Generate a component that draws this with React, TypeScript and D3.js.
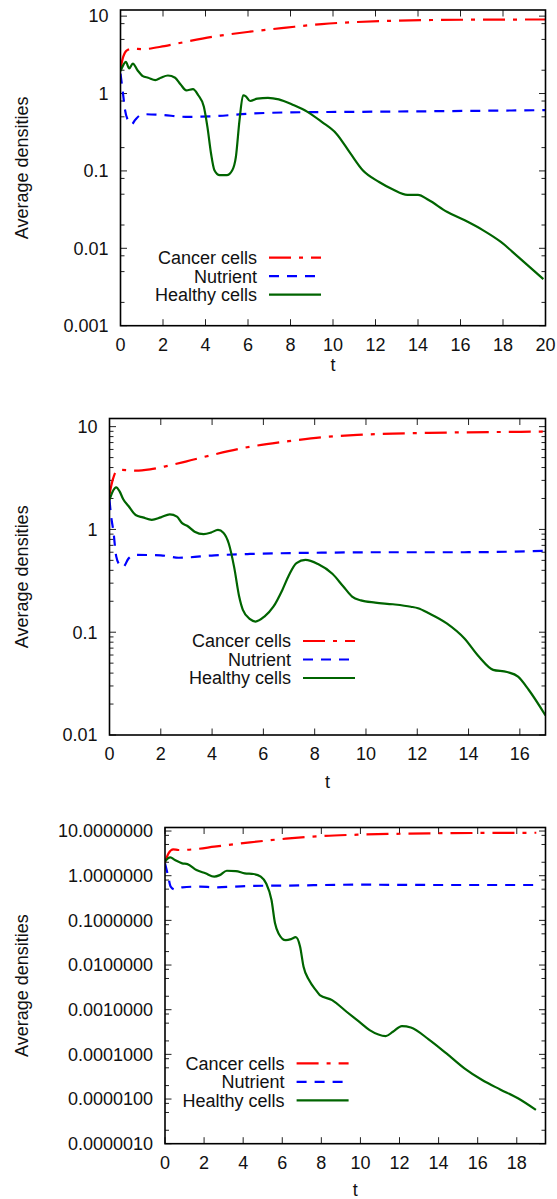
import React from "react";
import * as d3 from "d3";

// ---- series data: time points and average densities ----
// Simulation 1 (t in [0, 20])
const sim1CancerT = [0, 0.13, 0.3, 0.55, 1.05, 2.07, 3.07, 4.42, 6.1, 7.8, 9.47, 11.15, 12.8, 14.5, 17, 20];
const sim1CancerV = [2.1, 3.0, 3.6, 3.8, 3.75, 4.1, 4.66, 5.45, 6.3, 7.1, 7.9, 8.4, 8.7, 8.9, 9.0, 9.05];
const sim1NutrientT = [0, 0.1, 0.21, 0.35, 0.52, 0.7, 0.9, 1.1, 1.9, 3.07, 4.42, 6.1, 7.8, 11.15, 14.5, 20];
const sim1NutrientV = [1.8, 1.1, 0.62, 0.45, 0.4, 0.46, 0.52, 0.54, 0.53, 0.5, 0.51, 0.55, 0.57, 0.58, 0.59, 0.61];
const sim1HealthyT = [0, 0.13, 0.25, 0.41, 0.58, 0.8, 1.05, 1.3, 1.64, 1.9, 2.23, 2.57, 2.82, 3.1, 3.41, 3.66, 3.92, 4.09, 4.26, 4.42, 4.67, 5.0, 5.26, 5.43, 5.6, 5.77, 5.9, 6.1, 6.44, 6.94, 7.45, 8.13, 8.8, 9.47, 10.15, 10.82, 11.4, 12.17, 12.8, 13.5, 14.0, 14.5, 15.36, 16.2, 17.05, 17.9, 18.7, 19.9];
const sim1HealthyV = [1.95, 2.33, 2.57, 2.11, 2.44, 2.0, 1.68, 1.6, 1.49, 1.6, 1.71, 1.6, 1.32, 1.1, 1.14, 0.95, 0.68, 0.37, 0.168, 0.102, 0.088, 0.088, 0.102, 0.152, 0.45, 0.95, 0.92, 0.8, 0.86, 0.88, 0.84, 0.71, 0.58, 0.43, 0.305, 0.168, 0.102, 0.072, 0.058, 0.049, 0.049, 0.042, 0.0297, 0.023, 0.0172, 0.0121, 0.0078, 0.004];

// Simulation 2 (t in [0, 17])
const sim2CancerT = [0, 0.12, 0.26, 0.47, 1.02, 1.58, 2.14, 2.97, 4.09, 5.48, 6.87, 8.27, 9.66, 11.05, 12.45, 13.84, 15.24, 17];
const sim2CancerV = [2.2, 3.0, 3.65, 3.79, 3.73, 3.84, 4.09, 4.57, 5.37, 6.38, 7.15, 7.87, 8.3, 8.55, 8.7, 8.8, 8.87, 8.95];
const sim2NutrientT = [0, 0.05, 0.16, 0.26, 0.4, 0.53, 0.74, 1.02, 2.0, 2.7, 4.09, 5.48, 8.27, 11.05, 13.84, 17];
const sim2NutrientV = [1.93, 1.44, 0.92, 0.55, 0.45, 0.43, 0.52, 0.565, 0.56, 0.53, 0.56, 0.577, 0.594, 0.6, 0.6, 0.62];
const sim2HealthyT = [0, 0.12, 0.26, 0.4, 0.53, 0.74, 1.02, 1.3, 1.65, 2.0, 2.35, 2.63, 2.83, 3.04, 3.32, 3.67, 3.95, 4.23, 4.44, 4.65, 4.86, 5.06, 5.2, 5.48, 5.69, 6.04, 6.39, 6.74, 7.0, 7.29, 7.64, 8.13, 8.69, 9.11, 9.46, 9.8, 10.36, 11.05, 11.75, 12.03, 12.45, 13.15, 13.84, 14.4, 14.96, 15.5, 15.93, 16.35, 17];
const sim2HealthyV = [1.94, 2.33, 2.57, 2.33, 1.98, 1.69, 1.38, 1.31, 1.24, 1.31, 1.4, 1.33, 1.15, 1.08, 0.95, 0.9, 0.93, 0.99, 0.93, 0.73, 0.43, 0.22, 0.165, 0.134, 0.127, 0.142, 0.177, 0.258, 0.36, 0.47, 0.505, 0.46, 0.37, 0.28, 0.222, 0.204, 0.194, 0.187, 0.177, 0.171, 0.153, 0.122, 0.087, 0.058, 0.043, 0.041, 0.037, 0.0274, 0.0155];

// Simulation 3 (t in [0, 19])
const sim3CancerT = [0, 0.18, 0.42, 0.69, 1.6, 2.52, 4.35, 6.18, 8.0, 9.84, 13.5, 17.1, 19];
const sim3CancerV = [2.0, 3.16, 3.89, 3.76, 3.95, 4.46, 5.57, 6.73, 7.73, 8.28, 8.87, 9.1, 9.15];
const sim3NutrientT = [0, 0.15, 0.29, 0.51, 0.88, 1.79, 2.52, 4.35, 6.18, 9.84, 13.5, 19];
const sim3NutrientV = [1.9, 1.03, 0.57, 0.49, 0.55, 0.57, 0.55, 0.59, 0.6, 0.63, 0.62, 0.62];
const sim3HealthyT = [0, 0.15, 0.27, 0.51, 0.88, 1.15, 1.61, 2.07, 2.52, 2.8, 3.16, 3.62, 4.08, 4.53, 4.9, 5.17, 5.45, 5.63, 5.81, 6.18, 6.45, 6.69, 6.91, 7.09, 7.37, 7.73, 7.92, 8.55, 9.29, 9.93, 10.47, 11.3, 11.66, 12.12, 12.58, 13.49, 14.4, 15.32, 16.23, 17.15, 18.06, 18.98];
const sim3HealthyV = [2.06, 2.44, 2.57, 2.24, 1.89, 1.82, 1.34, 1.13, 0.95, 1.03, 1.29, 1.27, 1.13, 1.09, 0.95, 0.68, 0.285, 0.086, 0.051, 0.036, 0.038, 0.042, 0.026, 0.0091, 0.0046, 0.0027, 0.00213, 0.00164, 0.0009, 0.00054, 0.00035, 0.000257, 0.00032, 0.00043, 0.0004, 0.000217, 0.000105, 0.0000486, 0.0000266, 0.0000164, 0.0000104, 0.0000057];

// ---- tick labels ----
const sim1XTicks = [0, 2, 4, 6, 8, 10, 12, 14, 16, 18, 20];
const sim2XTicks = [0, 2, 4, 6, 8, 10, 12, 14, 16];
const sim3XTicks = [0, 2, 4, 6, 8, 10, 12, 14, 16, 18];
const sim1YTicks = [10, 1, 0.1, 0.01, 0.001];
const sim2YTicks = [10, 1, 0.1, 0.01];
const sim3YTicks = [10, 1, 0.1, 0.01, 0.001, 0.0001, 0.00001, 0.000001];
const sim1YLabels = ["10", "1", "0.1", "0.01", "0.001"];
const sim2YLabels = ["10", "1", "0.1", "0.01"];
const sim3YLabels = sim3YTicks.map((v) => d3.format(".7f")(v));

const seriesNames = ["Cancer cells", "Nutrient", "Healthy cells"];

const FONT = "'Liberation Sans', Arial, Helvetica, sans-serif";
const FS = 18;

const STYLES = [
  { color: "#ff0000", dash: "22 8 4 8" },
  { color: "#0000ff", dash: "10 8" },
  { color: "#006400", dash: "none" },
];

type PanelProps = {
  id: string;
  left: number;
  right: number;
  top: number;
  bottom: number;
  xMax: number;
  yMin: number;
  yMax: number;
  xTicks: number[];
  yTicks: number[];
  yLabels: string[];
  minorMult: number[];
  series: { t: number[]; v: number[] }[];
  legendRight: number;
  legendY: number;
  tLabelY: number;
};

function Panel(p: PanelProps) {
  const x = d3.scaleLinear().domain([0, p.xMax]).range([p.left, p.right]);
  const y = d3.scaleLog().domain([p.yMin, p.yMax]).range([p.bottom, p.top]);
  const line = d3
    .line<[number, number]>()
    .x((d) => x(d[0]))
    .y((d) => y(d[1]))
    .curve(d3.curveMonotoneX);

  // minor ticks inside each decade
  const minors: number[] = [];
  const lo = Math.round(Math.log10(p.yMin));
  const hi = Math.ceil(Math.log10(p.yMax));
  for (let e = lo; e < hi; e++) {
    for (const m of p.minorMult) {
      const v = m * Math.pow(10, e);
      if (v > p.yMin && v < p.yMax) minors.push(v);
    }
  }

  const majorLen = 6.5;
  const minorLen = 4;
  const clipId = `clip-${p.id}`;

  return (
    <g>
      <defs>
        <clipPath id={clipId}>
          <rect x={p.left} y={p.top} width={p.right - p.left} height={p.bottom - p.top} />
        </clipPath>
      </defs>

      {/* ticks, mirrored on all sides */}
      <g stroke="#222" strokeWidth={1}>
        {p.xTicks.map((t) => (
          <g key={`xt${t}`}>
            <line x1={x(t)} x2={x(t)} y1={p.bottom} y2={p.bottom - majorLen} />
            <line x1={x(t)} x2={x(t)} y1={p.top} y2={p.top + majorLen} />
          </g>
        ))}
        {p.yTicks.map((v) => (
          <g key={`yt${v}`}>
            <line x1={p.left} x2={p.left + majorLen} y1={y(v)} y2={y(v)} />
            <line x1={p.right} x2={p.right - majorLen} y1={y(v)} y2={y(v)} />
          </g>
        ))}
        {minors.map((v, i) => (
          <g key={`ym${i}`}>
            <line x1={p.left} x2={p.left + minorLen} y1={y(v)} y2={y(v)} />
            <line x1={p.right} x2={p.right - minorLen} y1={y(v)} y2={y(v)} />
          </g>
        ))}
      </g>

      {/* curves */}
      <g clipPath={`url(#${clipId})`} fill="none">
        {p.series.map((s, i) => (
          <path
            key={i}
            d={line(s.t.map((t, k) => [t, s.v[k]] as [number, number])) || ""}
            stroke={STYLES[i].color}
            strokeWidth={2.2}
            strokeDasharray={STYLES[i].dash}
            strokeLinejoin="round"
          />
        ))}
      </g>

      {/* frame */}
      <rect
        x={p.left}
        y={p.top}
        width={p.right - p.left}
        height={p.bottom - p.top}
        fill="none"
        stroke="#000"
        strokeWidth={1.6}
      />

      {/* tick labels */}
      <g fontFamily={FONT} fontSize={FS} fill="#111">
        {p.xTicks.map((t) => (
          <text key={`xl${t}`} x={x(t)} y={p.bottom + 25} textAnchor="middle">
            {t}
          </text>
        ))}
        {p.yTicks.map((v, i) => (
          <text key={`yl${v}`} x={p.left - 12} y={y(v)} dy="0.35em" textAnchor="end">
            {p.yLabels[i]}
          </text>
        ))}
        <text x={(p.left + p.right) / 2} y={p.tLabelY} textAnchor="middle">
          t
        </text>
        <text
          transform={`translate(22, ${(p.top + p.bottom) / 2}) rotate(-90)`}
          dy="0.35em"
          textAnchor="middle"
        >
          Average densities
        </text>
      </g>

      {/* legend */}
      <g fontFamily={FONT} fontSize={FS} fill="#111">
        {seriesNames.map((name, i) => {
          const yy = p.legendY + i * 18.5;
          return (
            <g key={name}>
              <text x={p.legendRight} y={yy} dy="0.35em" textAnchor="end">
                {name}
              </text>
              <line
                x1={p.legendRight + 12}
                x2={p.legendRight + 64}
                y1={yy}
                y2={yy}
                stroke={STYLES[i].color}
                strokeWidth={2.2}
                strokeDasharray={STYLES[i].dash}
              />
            </g>
          );
        })}
      </g>
    </g>
  );
}

export default function App() {
  const panels: PanelProps[] = [
    {
      id: "a",
      left: 120.5,
      right: 545.5,
      top: 10,
      bottom: 325.7,
      xMax: 20,
      yMin: 0.001,
      yMax: 12,
      xTicks: sim1XTicks,
      yTicks: sim1YTicks,
      yLabels: sim1YLabels,
      minorMult: [2, 5, 8],
      series: [
        { t: sim1CancerT, v: sim1CancerV },
        { t: sim1NutrientT, v: sim1NutrientV },
        { t: sim1HealthyT, v: sim1HealthyV },
      ],
      legendRight: 257,
      legendY: 257.7,
      tLabelY: 371,
    },
    {
      id: "b",
      left: 109.5,
      right: 545.5,
      top: 418.5,
      bottom: 735,
      xMax: 17,
      yMin: 0.01,
      yMax: 12,
      xTicks: sim2XTicks,
      yTicks: sim2YTicks,
      yLabels: sim2YLabels,
      minorMult: [2, 3, 4, 5, 6, 7, 8, 9],
      series: [
        { t: sim2CancerT, v: sim2CancerV },
        { t: sim2NutrientT, v: sim2NutrientV },
        { t: sim2HealthyT, v: sim2HealthyV },
      ],
      legendRight: 291,
      legendY: 641,
      tLabelY: 788,
    },
    {
      id: "c",
      left: 165,
      right: 545.5,
      top: 827.5,
      bottom: 1143.7,
      xMax: 19.47,
      yMin: 0.000001,
      yMax: 12,
      xTicks: sim3XTicks,
      yTicks: sim3YTicks,
      yLabels: sim3YLabels,
      minorMult: [2, 5, 8],
      series: [
        { t: sim3CancerT, v: sim3CancerV },
        { t: sim3NutrientT, v: sim3NutrientV },
        { t: sim3HealthyT, v: sim3HealthyV },
      ],
      legendRight: 284.6,
      legendY: 1063.3,
      tLabelY: 1196,
    },
  ];

  return (
    <svg
      width={557}
      height={1199}
      style={{ position: "absolute", left: 0, top: 0, background: "#fff" }}
    >
      <rect x={0} y={0} width={557} height={1199} fill="#fff" />
      {panels.map((p) => (
        <Panel key={p.id} {...p} />
      ))}
    </svg>
  );
}
